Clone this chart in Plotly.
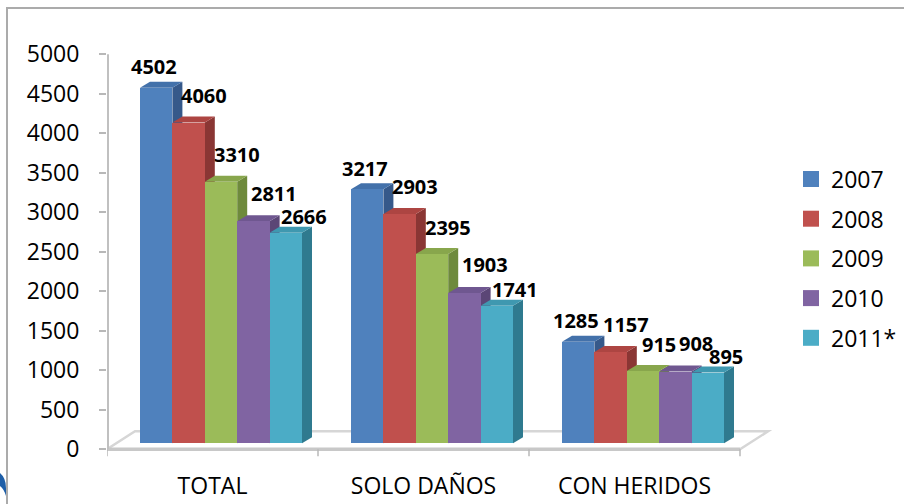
import plotly.graph_objects as go

# ---------------- data ----------------
categories = ["TOTAL", "SOLO DAÑOS", "CON HERIDOS"]
years = ["2007", "2008", "2009", "2010", "2011*"]
v2007 = [4502, 3217, 1285]
v2008 = [4060, 2903, 1157]
v2009 = [3310, 2395, 915]
v2010 = [2811, 1903, 908]
v2011 = [2666, 1741, 895]
series = [v2007, v2008, v2009, v2010, v2011]
y_ticks = [0, 500, 1000, 1500, 2000, 2500, 3000, 3500, 4000, 4500, 5000]

# ---------------- style / geometry ----------------
front_colors = ["#4F81BD", "#C0504D", "#9BBB59", "#8064A2", "#4BACC6"]
side_colors = ["#36598A", "#8A3634", "#6E8A3C", "#5B4676", "#2F7A8F"]
top_colors = ["#4371AA", "#AD4542", "#88A64C", "#6F5790", "#3F98B0"]

W, H = 904, 504
L, R, T, B = 107, 114, 50, 45
PX_PER_CAT = 211.0
PX_PER_UNIT = 0.079
Y_ZERO_PX = 449.3

def ux(px):
    return px / PX_PER_CAT

def uy(px):
    return px / PX_PER_UNIT

x_range = [-0.5, -0.5 + (W - L - R) / PX_PER_CAT]
y_range = [-uy(H - B - Y_ZERO_PX), uy(Y_ZERO_PX - T)]

BAR_W = ux(32.4)
GROUP_SHIFT = ux(8.5)
BASE = uy(6)
DX, DY = ux(10), uy(6)
FLOOR_DX, FLOOR_DY = ux(28), uy(18)
LABEL_DX_PX = [-2, 15, 16, 21, 18]
LABEL_DY_PX = [21, 27, 27, 28, 16]

def ppx(px):
    return (px - L) / (W - L - R)

def ppy(py):
    return (H - B - py) / (H - T - B)

FONT = "Open Sans"

fig = go.Figure()
shapes = []
annotations = []

# floor (3D base)
n = len(categories)
fx0, fx1 = -0.5, n - 0.5
shapes.append(dict(
    type="path", xref="x", yref="y", layer="below",
    path=f"M {fx0},0 L {fx1},0 L {fx1 + FLOOR_DX},{FLOOR_DY} L {fx0 + FLOOR_DX},{FLOOR_DY} Z",
    fillcolor="rgba(255,255,255,0)", line=dict(color="#D6D6D6", width=2.5)))
shapes.append(dict(type="line", xref="x", yref="y", layer="below",
                   x0=fx0, x1=fx1, y0=0, y1=0, line=dict(color="#C8C8C8", width=3.5)))
# category tick marks
for k in range(n + 1):
    shapes.append(dict(type="line", xref="x", yref="y", layer="below",
                       x0=k - 0.5, x1=k - 0.5, y0=0, y1=-uy(7),
                       line=dict(color="#B8B8B8", width=1.5)))
# y axis line
shapes.append(dict(type="line", xref="x", yref="y", layer="below",
                   x0=-0.5 + ux(1), x1=-0.5 + ux(1), y0=0, y1=y_ticks[-1],
                   line=dict(color="#C0C0C0", width=2)))

nser = len(series)
for j, vals in enumerate(series):
    xs = [i + GROUP_SHIFT + (j - (nser - 1) / 2) * BAR_W for i in range(n)]
    fig.add_trace(go.Bar(
        x=xs, y=vals, base=[BASE] * n, width=BAR_W, name=years[j],
        marker=dict(color=front_colors[j], line=dict(width=0)),
        showlegend=False, hoverinfo="skip"))

# 3D side and top faces, drawn left to right
for i in range(n):
    for j, vals in enumerate(series):
        xc = i + GROUP_SHIFT + (j - (nser - 1) / 2) * BAR_W
        xl, xr = xc - BAR_W / 2, xc + BAR_W / 2
        yb, yt = BASE, BASE + vals[i]
        shapes.append(dict(
            type="path", xref="x", yref="y", layer="below",
            path=f"M {xr},{yb} L {xr + DX},{yb + DY} L {xr + DX},{yt + DY} L {xr},{yt} Z",
            fillcolor=side_colors[j], line=dict(width=0)))
        shapes.append(dict(
            type="path", xref="x", yref="y", layer="below",
            path=f"M {xl},{yt} L {xr},{yt} L {xr + DX},{yt + DY} L {xl + DX},{yt + DY} Z",
            fillcolor=top_colors[j], line=dict(width=0)))
        annotations.append(dict(
            xref="x", yref="y", x=xc + ux(LABEL_DX_PX[j]), y=yt + uy(LABEL_DY_PX[j]),
            text=f"<b>{vals[i]}</b>", showarrow=False, xanchor="center", yanchor="middle",
            font=dict(family=FONT, size=20, color="#000000")))

# legend (manual, larger swatches)
leg_y0, leg_step = 179, 39.7
for j, name in enumerate(years):
    cy = leg_y0 + j * leg_step
    shapes.append(dict(type="rect", xref="paper", yref="paper",
                       x0=ppx(803), x1=ppx(819), y0=ppy(cy + 8), y1=ppy(cy - 8),
                       fillcolor=front_colors[j], line=dict(width=0)))
    annotations.append(dict(xref="paper", yref="paper", x=ppx(829), y=ppy(cy),
                            text=name, showarrow=False, xanchor="left", yanchor="middle",
                            font=dict(family=FONT, size=23, color="#000000")))

# outer frame and decoration
shapes.append(dict(type="rect", xref="paper", yref="paper",
                   x0=ppx(7), x1=ppx(920), y0=ppy(520), y1=ppy(8),
                   fillcolor="rgba(0,0,0,0)", line=dict(color="#ABABAB", width=2)))
shapes.append(dict(type="path", xref="paper", yref="paper",
                   path=(f"M {ppx(0)},{ppy(473)} Q {ppx(6)},{ppy(478)} {ppx(6)},{ppy(488)} "
                         f"L {ppx(6)},{ppy(496)} Q {ppx(4)},{ppy(489)} {ppx(0)},{ppy(486)} Z"),
                   fillcolor="#1F5FA8", line=dict(width=0)))

fig.update_layout(
    template="none",
    width=W, height=H,
    margin=dict(l=L, r=R, t=T, b=B, pad=0),
    paper_bgcolor="white", plot_bgcolor="rgba(0,0,0,0)",
    barmode="overlay", bargap=0,
    shapes=shapes, annotations=annotations,
    showlegend=False,
    xaxis=dict(range=x_range, showgrid=False, zeroline=False, showline=False,
               automargin=False,
               tickmode="array", tickvals=list(range(n)), ticktext=categories,
               ticks="", tickfont=dict(family=FONT, size=23, color="#000000"),
               ticklabelstandoff=11, fixedrange=True),
    yaxis=dict(range=y_range, showgrid=False, zeroline=False, showline=False,
               automargin=False,
               tickmode="array", tickvals=y_ticks, ticks="outside", ticklen=7,
               tickcolor="#B8B8B8", tickwidth=1.5,
               tickfont=dict(family=FONT, size=23, color="#000000"),
               ticklabelstandoff=15, fixedrange=True),
)

fig.write_html("out.html")
